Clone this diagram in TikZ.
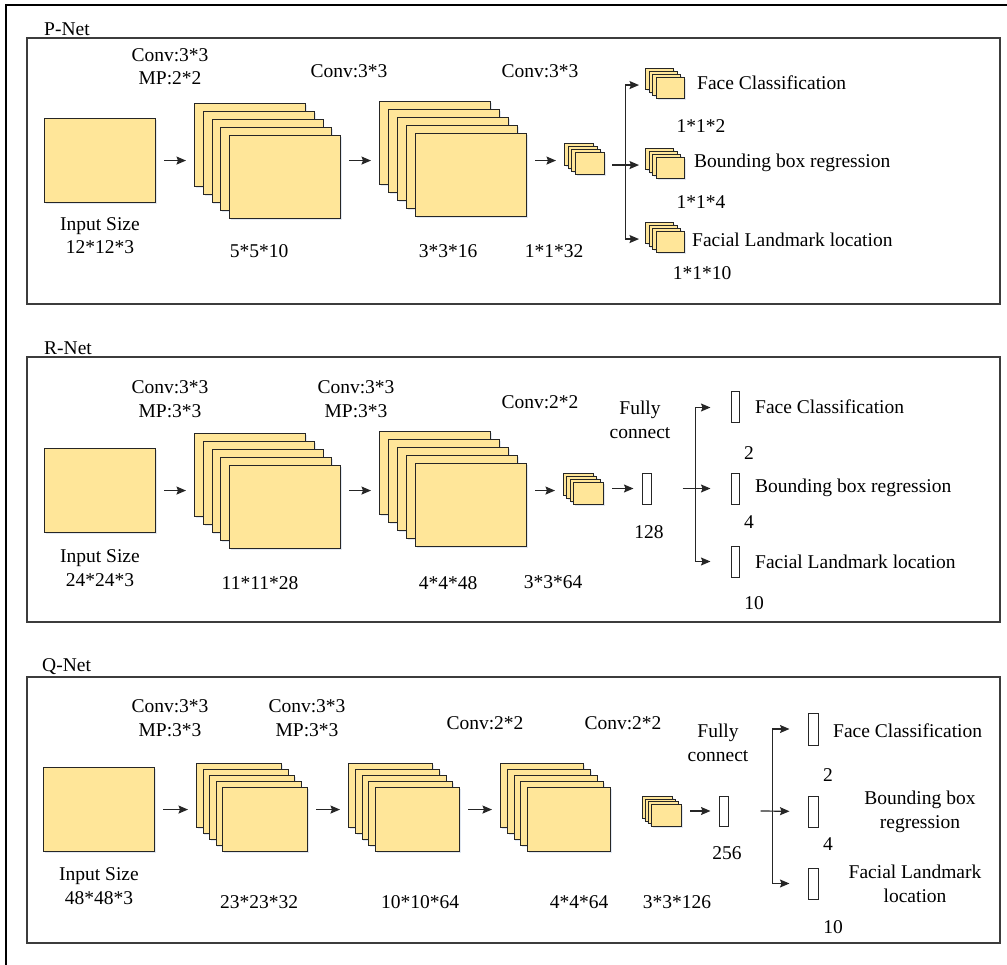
\documentclass[tikz,border=0pt]{standalone}
\usepackage{fontspec}
\setmainfont{Liberation Serif}
\usetikzlibrary{arrows.meta, calc, positioning, shadows}
\definecolor{mapFill}{HTML}{FFE699}
\definecolor{mapLine}{HTML}{262626}
\definecolor{netLine}{HTML}{3C3C3C}
\definecolor{shadeBlue}{HTML}{A9BEDD}

\begin{document}
\begin{tikzpicture}[x=1pt, y=-1pt,
  font=\fontsize{19.5}{23.5}\selectfont,
  fmap/.style={draw=mapLine, line width=1.1pt, fill=mapFill, inner sep=0pt, anchor=north west,
               drop shadow={opacity=0.35, shadow xshift=1.2pt, shadow yshift=-1.8pt, fill=shadeBlue}},
  vec/.style={draw=mapLine, line width=1pt, fill=white, inner sep=0pt, minimum width=#1, minimum height=31pt},
  vec/.default=9pt,
  net/.style={draw=netLine, line width=1.5pt},
  lbl/.style={inner sep=0pt, align=center},
  arr/.style={-{Stealth[length=9.5pt, width=8pt, inset=1.5pt]}, line width=1.2pt, draw=mapLine},
  gap/.style={shorten <=8pt, shorten >=8pt}]
  \useasboundingbox (0,0) rectangle (1007,965);
  % outer frame (cut off on the right and bottom)
  \draw[line width=1.2pt, black] (1007,5) -- (6,5) -- (6,965);
  % the three nets
  \draw[net] (27,38) rectangle (1000,304);
  \draw[net] (27,357) rectangle (1000,622);
  \draw[net] (27,677) rectangle (1000,943);
  \node[lbl, anchor=west] (ptitle) at (44,29) {P-Net};
  \node[lbl, anchor=west] (rtitle) at (44,348) {R-Net};
  \node[lbl, anchor=west] (qtitle) at (42,667) {Q-Net};

  % inputs
  \node[fmap, minimum width=111pt, minimum height=84pt] (pin) at (44,118) {};
  \node[fmap, minimum width=111pt, minimum height=84pt] (rin) at (44,448) {};
  \node[fmap, minimum width=111pt, minimum height=84pt] (qin) at (43,767) {};

  % stacks of feature maps: name / x / y / width / height / last layer / dx / dy
  \foreach \n/\x/\y/\w/\h/\k/\dx/\dy in {
      p1/194/103/111/83/4/8.75/8, p2/379/101/111/83/4/9/8, p3/564/143/29/22/3/3.67/3,
      po1/645/68/28/21/3/3.67/3, po2/645/148/28/21/3/3.67/3, po3/645/222/28/21/3/3.67/3,
      r1/194/433/111/83/4/8.75/8, r2/379/431/111/83/4/9/8, r3/563/473/30/22/3/3.33/3,
      q1/196/763/85/64/4/6.5/6, q2/348/763/84/64/4/6.75/6, q3/500/763/83/64/4/6.75/6,
      q4/642/796/30/22/3/3/2.67}
    \foreach \i in {0,...,\k}
      \node[fmap, minimum width=\w pt, minimum height=\h pt] (\n\i) at (\x+\dx*\i, \y+\dy*\i) {};

  % fully connected vectors and outputs
  \node[vec] (rfc) at (646.5,488.5) {};
  \node[vec=8pt] (ro1) at (735,407.5) {};
  \node[vec=8pt] (ro2) at (735,488.5) {};
  \node[vec=8pt] (ro3) at (735,561.5) {};
  \node[vec, minimum height=30pt] (qfc) at (723.5,811) {};
  \node[vec=10pt, minimum height=32pt] (qo1) at (813,729) {};
  \node[vec=10pt] (qo2) at (813,811.5) {};
  \node[vec=10pt] (qo3) at (813,883.5) {};

  % P-Net arrows
  \draw[arr, gap] (pin.east) -- (pin.east -| p10.west);
  \draw[arr, gap] (p14.east |- pin.east) -- (p20.west |- pin.east);
  \draw[arr, gap] (p24.east |- pin.east) -- (p30.west |- pin.east);
  \coordinate (pbr) at ($(po22.west -| p33.east)+(20,0)$);
  \draw[arr, shorten <=7pt, shorten >=6pt] (p33.east |- pbr) -- (po20.west |- pbr);
  \draw[arr, shorten >=6pt] (pbr) |- (po12.west -| po10.west);
  \draw[arr, shorten >=6pt] (pbr) |- (po32.west -| po30.west);

  % R-Net arrows
  \draw[arr, gap] (rin.east) -- (rin.east -| r10.west);
  \draw[arr, gap] (r14.east |- rin.east) -- (r20.west |- rin.east);
  \draw[arr, gap] (r24.east |- rin.east) -- (r30.west |- rin.east);
  \draw[arr, gap] (r33.east |- rfc.west) -- (rfc.west);
  \coordinate (rsrc) at ($(rfc.east)+(31,0)$);
  \coordinate (rbr) at ($(rfc.east)+(44,0)$);
  \draw[arr, shorten >=20pt] (rsrc) -- (ro2.west);
  \draw[arr, shorten >=20pt] (rbr) |- (ro1.west);
  \draw[arr, shorten >=20pt] (rbr) |- (ro3.west);

  % Q-Net arrows
  \draw[arr, gap] (qin.east) -- (qin.east -| q10.west);
  \draw[arr, gap] (q14.east |- qin.east) -- (q20.west |- qin.east);
  \draw[arr, gap] (q24.east |- qin.east) -- (q30.west |- qin.east);
  \draw[arr, gap] (q43.east |- qfc.west) -- (qfc.west);
  \coordinate (qsrc) at ($(qfc.east)+(32,0)$);
  \coordinate (qbr) at ($(qfc.east)+(44,0)$);
  \draw[arr, shorten >=18pt] (qsrc) -- (qo2.west);
  \draw[arr, shorten >=18pt] (qbr) |- (qo1.west);
  \draw[arr, shorten >=18pt] (qbr) |- (qo3.west);

  % P-Net labels
  \node[lbl] (pk1) at (170,66.5) {Conv:3*3\\MP:2*2};
  \node[lbl] (pk2) at (349,71) {Conv:3*3};
  \node[lbl] (pk3) at (540,71) {Conv:3*3};
  \node[lbl] (ps0) at (100,235.5) {Input Size\\12*12*3};
  \node[lbl] (ps1) at (259,251) {5*5*10};
  \node[lbl] (ps2) at (448,251) {3*3*16};
  \node[lbl] (ps3) at (554,251) {1*1*32};
  \node[lbl, anchor=west] (pt1) at (697,83) {Face Classification};
  \node[lbl, anchor=west] (pt2) at (694,163) {Bounding box regression};
  \node[lbl, anchor=west] (pt3) at (692,240) {Facial Landmark location};
  \node[lbl] (pn1) at (701,126) {1*1*2};
  \node[lbl] (pn2) at (701,202) {1*1*4};
  \node[lbl] (pn3) at (702,273) {1*1*10};

  % R-Net labels
  \node[lbl] (rk1) at (170,399) {Conv:3*3\\MP:3*3};
  \node[lbl] (rk2) at (356,399) {Conv:3*3\\MP:3*3};
  \node[lbl] (rk3) at (540,402) {Conv:2*2};
  \node[lbl] (rfcl) at (640,420) {Fully\\connect};
  \node[lbl] (rs0) at (100,568) {Input Size\\24*24*3};
  \node[lbl] (rs1) at (260,583) {11*11*28};
  \node[lbl] (rs2) at (448,583) {4*4*48};
  \node[lbl] (rs3) at (553,582) {3*3*64};
  \node[lbl] (rs4) at (649,532) {128};
  \node[lbl, anchor=west] (rt1) at (755,407) {Face Classification};
  \node[lbl, anchor=west] (rt2) at (755,488) {Bounding box regression};
  \node[lbl, anchor=west] (rt3) at (755,562) {Facial Landmark location};
  \node[lbl] (rn1) at (749,453) {2};
  \node[lbl] (rn2) at (749,522) {4};
  \node[lbl] (rn3) at (754,603) {10};

  % Q-Net labels
  \node[lbl] (qk1) at (170,718) {Conv:3*3\\MP:3*3};
  \node[lbl] (qk2) at (307,718) {Conv:3*3\\MP:3*3};
  \node[lbl] (qk3) at (485,723) {Conv:2*2};
  \node[lbl] (qk4) at (623,723) {Conv:2*2};
  \node[lbl] (qfcl) at (718,743) {Fully\\connect};
  \node[lbl] (qs0) at (99,886) {Input Size\\48*48*3};
  \node[lbl] (qs1) at (259,902) {23*23*32};
  \node[lbl] (qs2) at (420,902) {10*10*64};
  \node[lbl] (qs3) at (579,902) {4*4*64};
  \node[lbl] (qs4) at (677,902) {3*3*126};
  \node[lbl] (qs5) at (727,853) {256};
  \node[lbl, anchor=west] (qt1) at (833,731) {Face Classification};
  \node[lbl] (qt2) at (920,812) {Bounding box\\regression};
  \node[lbl] (qt3) at (915,884) {Facial Landmark\\location};
  \node[lbl] (qn1) at (828,775) {2};
  \node[lbl] (qn2) at (828,844) {4};
  \node[lbl] (qn3) at (833,927) {10};
\end{tikzpicture}
\end{document}
